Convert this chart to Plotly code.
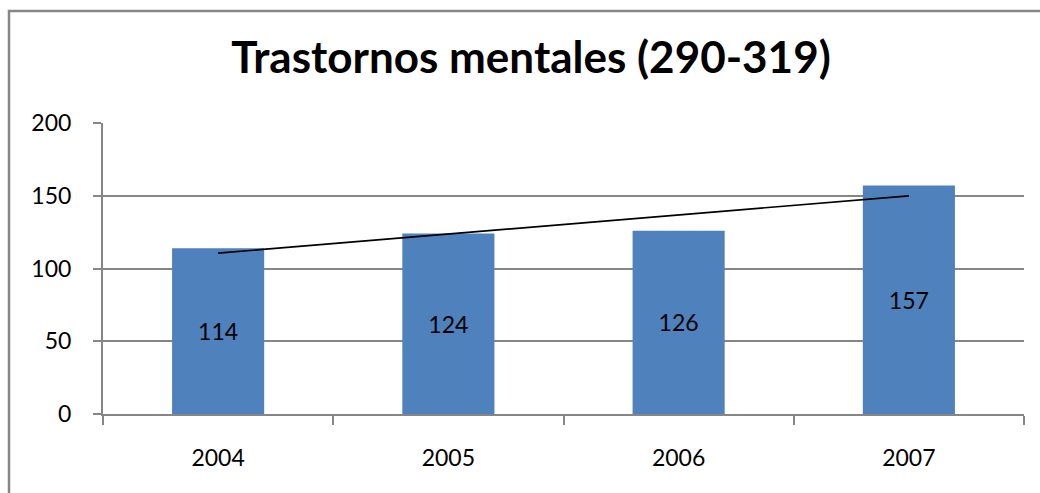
import numpy as np
import plotly.graph_objects as go

# Datos
years = ["2004", "2005", "2006", "2007"]
cases = [114, 124, 126, 157]
y_ticks = [0, 50, 100, 150, 200]

BAR_COLOR = "#4F81BD"
GRID_COLOR = "#868686"
FONT = "Lato"

# Linear trend over the category index
idx = np.arange(1, len(cases) + 1)
slope, intercept = np.polyfit(idx, cases, 1)
trend = slope * idx + intercept

fig = go.Figure()
fig.add_trace(go.Bar(
    x=years, y=cases,
    marker=dict(color=BAR_COLOR, line=dict(width=0)),
    width=0.4,
    text=[str(v) for v in cases],
    textposition="inside",
    insidetextanchor="middle",
    textangle=0,
    constraintext="none",
    textfont=dict(family=FONT, size=23, color="black"),
    hoverinfo="x+y",
))
fig.add_trace(go.Scatter(
    x=years, y=trend, mode="lines",
    line=dict(color="black", width=1.6),
    hoverinfo="skip",
))

W, H = 1040, 493
L, R, T, B = 103, 16, 123, 79
pw, ph = W - L - R, H - T - B

def px_to_paper_x(px):
    return (px - L) / pw

def px_to_paper_y(py):
    return (H - B - py) / ph

fig.update_layout(
    width=W, height=H,
    margin=dict(l=L, r=R, t=T, b=B, pad=0),
    paper_bgcolor="white", plot_bgcolor="white",
    showlegend=False,
    bargap=0.6,
    font=dict(family=FONT, size=23, color="black"),
    title=dict(
        text="<b>Trastornos mentales (290-319)</b>",
        x=531 / W, xanchor="center", xref="container",
        y=(H - 58) / H, yanchor="middle", yref="container",
        font=dict(family=FONT, size=44, color="black", weight=900),
    ),
    xaxis=dict(
        type="category",
        showgrid=False,
        showline=True, linecolor=GRID_COLOR, linewidth=2,
        ticks="outside", tickson="boundaries", ticklen=9,
        tickcolor=GRID_COLOR, tickwidth=2,
        ticklabelstandoff=22,
        tickfont=dict(family=FONT, size=23, color="black"),
        fixedrange=True,
    ),
    yaxis=dict(
        range=[0, 200],
        tickvals=y_ticks,
        showgrid=True, gridcolor=GRID_COLOR, gridwidth=2,
        zeroline=False,
        showline=True, linecolor=GRID_COLOR, linewidth=2,
        ticks="outside", ticklen=8, tickcolor=GRID_COLOR, tickwidth=2,
        ticklabelstandoff=17,
        tickfont=dict(family=FONT, size=23, color="black"),
        fixedrange=True,
    ),
    shapes=[dict(
        type="rect", xref="paper", yref="paper",
        x0=px_to_paper_x(9), x1=px_to_paper_x(W + 20),
        y0=px_to_paper_y(H + 20), y1=px_to_paper_y(11),
        line=dict(color=GRID_COLOR, width=2.5),
        fillcolor="rgba(0,0,0,0)",
        layer="below",
    )],
)

fig.write_html("out.html")
